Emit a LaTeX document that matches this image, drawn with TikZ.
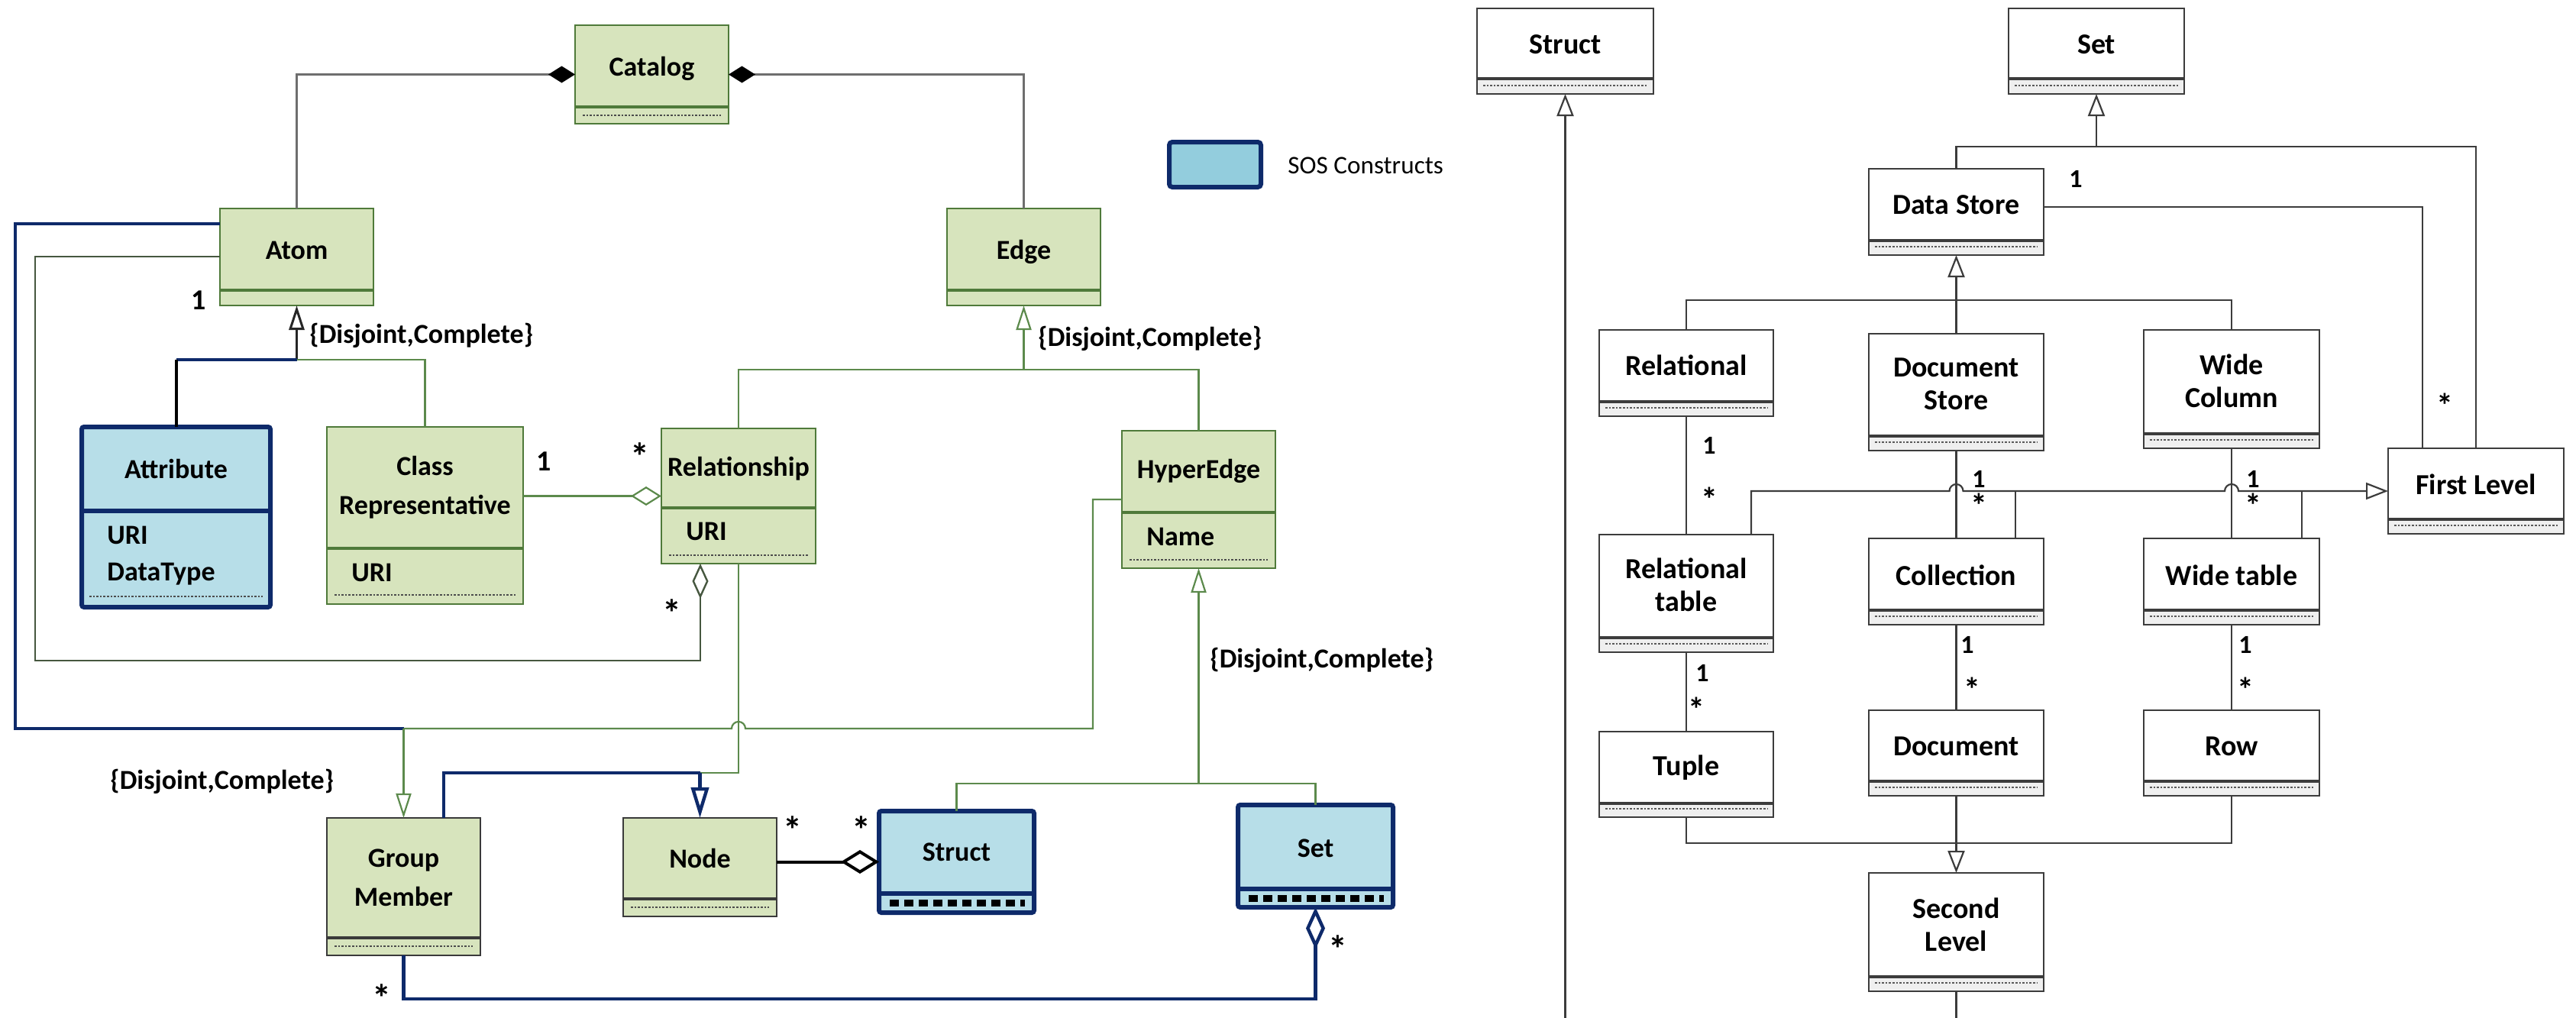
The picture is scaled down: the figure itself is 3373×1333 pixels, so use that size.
\documentclass[tikz,border=0pt]{standalone}
\usepackage{fontspec}
\setmainfont{Carlito}
\usetikzlibrary{arrows.meta}

\definecolor{gfill}{HTML}{D7E4BD}
\definecolor{gline}{HTML}{4F7A3A}
\definecolor{gconncol}{HTML}{5C8A4C}
\definecolor{gmline}{HTML}{3A3A3A}
\definecolor{bfill}{HTML}{B7DEE8}
\definecolor{lfill}{HTML}{93CDDD}
\definecolor{navy}{HTML}{0E2A6A}
\definecolor{cgray}{HTML}{6E6E6E}
\definecolor{rline}{HTML}{3C3C3C}
\definecolor{cfill}{HTML}{EFEFEF}
\definecolor{loopcol}{HTML}{46573F}

% green UML class: [border colour]{name}{x1}{y1}{x2}{y2}{divider y}
\newcommand{\gclass}[7][gline]{%
  \pgfmathsetmacro{\clsw}{(#5-#3)/2}%
  \pgfmathsetmacro{\clsh}{(#6-#4)/2}%
  \fill[gfill] (#3,#4) rectangle (#5,#6);
  \node[draw=#1, line width=1.3pt, rectangle, inner sep=0pt, outer sep=0pt,
        minimum width=\clsw pt, minimum height=\clsh pt] (#2) at ({(#3+#5)/2},{(#4+#6)/2}) {};
  \draw[#1, line width=1.6pt] (#3,#7) -- (#5,#7);
}
% blue (SOS construct) class
\newcommand{\bclass}[6]{%
  \pgfmathsetmacro{\clsw}{(#4-#2)/2}%
  \pgfmathsetmacro{\clsh}{(#5-#3)/2}%
  \node[draw=navy, fill=bfill, line width=3pt, rounded corners=1.5pt, rectangle, inner sep=0pt, outer sep=0pt,
        minimum width=\clsw pt, minimum height=\clsh pt] (#1) at ({(#2+#4)/2},{(#3+#5)/2}) {};
  \draw[navy, line width=3pt] (#2,#6) -- (#4,#6);
}
% white class with grey lower compartment
\newcommand{\wclass}[6]{%
  \pgfmathsetmacro{\clsw}{(#4-#2)/2}%
  \pgfmathsetmacro{\clsh}{(#5-#3)/2}%
  \fill[white] (#2,#3) rectangle (#4,#5);
  \fill[cfill] (#2,#6) rectangle (#4,#5);
  \node[draw=rline, line width=1.1pt, rectangle, inner sep=0pt, outer sep=0pt,
        minimum width=\clsw pt, minimum height=\clsh pt] (#1) at ({(#2+#4)/2},{(#3+#5)/2}) {};
  \draw[rline, line width=1.8pt] (#2,#6) -- (#4,#6);
  \draw[rdots] ({#2+8},{#5-11}) -- ({#4-8},{#5-11});
}

\begin{document}
\begin{tikzpicture}[x=0.5pt, y=-0.5pt,
  lname/.style={font=\bfseries\fontsize{18}{25.5}\selectfont, align=center, inner sep=0pt},
  rname/.style={font=\bfseries\fontsize{19}{21.5}\selectfont, align=center, inner sep=0pt},
  attr/.style={font=\bfseries\fontsize{18}{22}\selectfont, anchor=west, inner sep=0pt},
  mult/.style={font=\bfseries\fontsize{19}{20}\selectfont, inner sep=0pt},
  rmult/.style={font=\bfseries\fontsize{17}{18}\selectfont, inner sep=0pt},
  star/.style={font=\bfseries\fontsize{25}{26}\selectfont, inner sep=0pt},
  rstar/.style={font=\bfseries\fontsize{22}{23}\selectfont, inner sep=0pt},
  constraint/.style={font=\bfseries\fontsize{18}{20}\selectfont, anchor=west, inner sep=0pt},
  gdots/.style={draw=black!70, line width=1.1pt, dash pattern=on 1.3pt off 1pt},
  rdots/.style={draw=black!65, line width=1.1pt, dash pattern=on 1.3pt off 1pt},
  bdash/.style={draw=black, line width=4.5pt, dash pattern=on 6pt off 3.5pt},
  gconn/.style={draw=gconncol, line width=1.1pt},
  bconn/.style={draw=navy, line width=2.2pt},
  kconn/.style={draw=black, line width=2pt},
  cconn/.style={draw=cgray, line width=1.4pt},
  rconn/.style={draw=rline, line width=1.1pt},
  gen/.style={-{Triangle[open, length=16pt, width=10pt]}},
  rgen/.style={-{Triangle[open, length=14.5pt, width=11pt]}},
  compose/.style={{Diamond[length=17.5pt, width=11pt, color=black, fill=black]}-},
]
\useasboundingbox (0,0) rectangle (3373,1333);
\fill[white] (0,0) rectangle (3373,1333);

% ---------------- left model ----------------
\gclass{catalog}{753}{33}{954}{162}{140}
\draw[gdots] (763,151) -- (944,151);
\gclass{atom}{288}{273}{489}{400}{380}
\gclass{edge}{1240}{273}{1441}{400}{380}
\bclass{attribute}{107}{559}{354}{795}{669}
\draw[gdots] (117,781) -- (344,781);
\gclass{classrep}{428}{559}{685}{791}{718}
\draw[gdots] (438,779) -- (675,779);
\gclass{relationship}{866}{561}{1068}{738}{665}
\draw[gdots] (876,727) -- (1058,727);
\gclass{hyperedge}{1469}{564}{1670}{744}{671}
\draw[gdots] (1479,733) -- (1660,733);
\gclass[gmline]{groupmember}{428}{1071}{629}{1251}{1228}
\draw[gdots] (438,1239) -- (619,1239);
\gclass[gmline]{nodecls}{816}{1071}{1017}{1200}{1177}
\draw[gdots] (826,1188) -- (1007,1188);
\bclass{struct}{1151}{1062}{1354}{1195}{1170}
\draw[bdash] (1165,1182) -- (1342,1182);
\bclass{set}{1621}{1054}{1824}{1188}{1164}
\draw[bdash] (1635,1176) -- (1812,1176);

\node[lname] (catalog-t) at (853.5,90) {Catalog};
\node[lname] (atom-t) at (388.5,328) {Atom};
\node[lname] (edge-t) at (1340.5,330) {Edge};
\node[lname] (attribute-t) at (230.5,614) {Attribute};
\node[attr] (attribute-a1) at (140,701) {URI};
\node[attr] (attribute-a2) at (140,752) {DataType};
\node[lname] (classrep-t) at (556.5,638) {Class\\Representative};
\node[attr] (classrep-a) at (460,750) {URI};
\node[lname] (relationship-t) at (967,614) {Relationship};
\node[attr] (relationship-a) at (898,696) {URI};
\node[lname] (hyperedge-t) at (1569.5,617) {HyperEdge};
\node[attr] (hyperedge-a) at (1501,703) {Name};
\node[lname] (groupmember-t) at (528.5,1149) {Group\\Member};
\node[lname] (nodecls-t) at (916.5,1124) {Node};
\node[lname] (struct-t) at (1252.5,1116) {Struct};
\node[lname] (set-t) at (1722.5,1111) {Set};

% legend
\node[draw=navy, fill=lfill, line width=3pt, rounded corners=2pt, inner sep=0pt,
      minimum width=60pt, minimum height=29.5pt] (legend) at (1591,215.5) {};
\node[font=\fontsize{16.6}{18}\selectfont, anchor=west, inner sep=0pt] (legend-t) at (1686,217) {SOS Constructs};

% compositions of Catalog
\draw[cconn, compose] (catalog.west) -| (atom.north);
\draw[cconn, compose] (catalog.east) -| (edge.north);

% Atom specialisation
\coordinate (atomj) at (388.5,471);
\draw[draw=black!85, line width=1.5pt, gen] (atomj) -- (atom.south);
\draw[bconn] (atomj) -- (atomj -| attribute.north);
\draw[kconn] (atomj -| attribute.north) -- (attribute.north);
\draw[gconn] (atomj) -| (classrep.north);
\node[constraint] (atom-c) at (405,439) {\{Disjoint,Complete\}};
\node[mult] (atom-m) at (260,393) {1};

% Edge specialisation
\coordinate (edgej) at (1340.5,484);
\draw[gconn, gen] (edgej) -- (edge.south);
\draw[gconn] (relationship.north) |- (edgej) -| (hyperedge.north);
\node[constraint] (edge-c) at (1359,443) {\{Disjoint,Complete\}};

% Class Representative -- Relationship
\draw[gconn, -{Diamond[open, length=20pt, width=12.5pt]}] (classrep.east |- relationship.west) -- (relationship.west);
\node[mult] (cr-m1) at (712,604) {1};
\node[star] (cr-m2) at (838,598) {*};

% Atom -- Relationship aggregation
\draw[draw=loopcol, line width=1.2pt, -{Diamond[open, length=23pt, width=10.5pt]}]
  (atom.west |- 0,336) -| (46,865) -| (relationship.south -| 917,0);
\node[star] (rel-m) at (880,803) {*};

% Group Member specialisations
\coordinate (gmj) at (528.5,954);
\draw[bconn] (atom.west |- 0,293) -| (20,954) -- (gmj);
\draw[gconn] (hyperedge.west) -| (1431,954) -- (976,954)
  arc[start angle=0, end angle=180, radius=4.5pt] -- (gmj);
\draw[gconn, gen] (gmj) -- (groupmember.north);
\node[constraint] (gm-c) at (144,1023) {\{Disjoint,Complete\}};

% Node specialisations
\coordinate (nodej) at (916.5,1012);
\draw[gconn] (relationship.south) |- (nodej);
\draw[bconn] (groupmember.north -| 581,0) |- (nodej);
\draw[bconn, -{Triangle[open, length=20pt, width=11.5pt]}] (nodej) -- (nodecls.north);

% Node -- Struct aggregation
\draw[kconn, -{Diamond[open, length=25pt, width=15.5pt]}] (nodecls.east |- struct.west) -- (struct.west);
\node[star] (ns-m1) at (1038,1087) {*};
\node[star] (ns-m2) at (1128,1087) {*};

% HyperEdge specialisation
\coordinate (hej) at (1569.5,1026);
\draw[gconn, gen] (hej) -- (hyperedge.south);
\draw[gconn] (struct.north) |- (hej) -| (set.north);
\node[constraint] (he-c) at (1584,864) {\{Disjoint,Complete\}};

% Set -- Group Member aggregation
\draw[bconn, {Diamond[open, length=27.5pt, width=12.5pt]}-] (set.south) |- (528.5,1308) -- (groupmember.south);
\node[star] (sg-m1) at (1752,1243) {*};
\node[star] (sg-m2) at (500,1307) {*};

% ---------------- right model ----------------
\wclass{structR}{1934}{11}{2165}{123}{103}
\wclass{setR}{2630}{11}{2860}{123}{103}
\wclass{datastore}{2447}{221}{2676}{334}{315}
\wclass{relational}{2094}{432}{2322}{545}{526}
\wclass{docstore}{2447}{437}{2676}{590}{571}
\wclass{widecol}{2807}{432}{3037}{587}{568}
\wclass{firstlevel}{3127}{587}{3357}{699}{680}
\wclass{reltable}{2094}{700}{2322}{854}{835}
\wclass{collection}{2447}{705}{2676}{818}{799}
\wclass{widetable}{2807}{705}{3037}{818}{799}
\wclass{tuple}{2094}{958}{2322}{1070}{1052}
\wclass{document}{2447}{930}{2676}{1042}{1023}
\wclass{row}{2807}{930}{3037}{1042}{1023}
\wclass{secondlevel}{2447}{1143}{2676}{1298}{1279}

\node[rname] (structR-t) at (2049.5,58) {Struct};
\node[rname] (setR-t) at (2745,58) {Set};
\node[rname] (datastore-t) at (2561.5,268) {Data Store};
\node[rname] (relational-t) at (2208,478) {Relational};
\node[rname] (docstore-t) at (2561.5,503) {Document\\Store};
\node[rname] (widecol-t) at (2922,499) {Wide\\Column};
\node[rname] (firstlevel-t) at (3242,634) {First Level};
\node[rname] (reltable-t) at (2208,766) {Relational\\table};
\node[rname] (collection-t) at (2561.5,753) {Collection};
\node[rname] (widetable-t) at (2922,753) {Wide table};
\node[rname] (tuple-t) at (2208,1005) {Tuple};
\node[rname] (document-t) at (2561.5,977) {Document};
\node[rname] (row-t) at (2922,977) {Row};
\node[rname] (secondlevel-t) at (2561.5,1211) {Second\\Level};

% Struct specialisation (continues below)
\coordinate (structEnd) at (2049.5,1333);
\draw[rconn, rgen] (structEnd) -- (structR.south);

% Set specialisation
\coordinate (setj) at (2745,192);
\draw[rconn, rgen] (setj) -- (setR.south);
\draw[rconn] (datastore.north) |- (setj) -| (firstlevel.north);

% Data Store -- First Level
\draw[rconn] (datastore.east |- 0,271) -| (firstlevel.north -| 3172,0);
\node[rmult] (df-m1) at (2718,234) {1};
\node[rstar] (df-m2) at (3201,531) {*};

% Data Store specialisation
\coordinate (dsj) at (2561.5,393);
\draw[rconn, rgen] (dsj) -- (datastore.south);
\draw[rconn] (relational.north) |- (dsj) -| (widecol.north);
\draw[rconn] (docstore.north) -- (dsj);

% store -- container associations
\draw[rconn] (relational.south) -- (reltable.north);
\draw[rconn] (docstore.south) -- (collection.north);
\draw[rconn] (widecol.south) -- (widetable.north);
\node[rmult] (rr-m1) at (2238,583) {1};
\node[rstar] (rr-m2) at (2238,654) {*};
\node[rmult] (dc-m1) at (2591,627) {1};
\node[rstar] (dc-m2) at (2591,662) {*};
\node[rmult] (ww-m1) at (2950,627) {1};
\node[rstar] (ww-m2) at (2950,662) {*};

% First Level specialisation
\draw[rconn, rgen] (reltable.north -| 2293,0) |- (2552.5,643)
  arc[start angle=180, end angle=0, radius=4.5pt] -- (2913,643)
  arc[start angle=180, end angle=0, radius=4.5pt] -- (firstlevel.west);
\draw[rconn] (collection.north -| 2639,0) -- (2639,643);
\draw[rconn] (widetable.north -| 3014,0) -- (3014,643);

% container -- item associations
\draw[rconn] (reltable.south) -- (tuple.north);
\draw[rconn] (collection.south) -- (document.north);
\draw[rconn] (widetable.south) -- (row.north);
\node[rmult] (rt-m1) at (2229,881) {1};
\node[rstar] (rt-m2) at (2221,929) {*};
\node[rmult] (cd-m1) at (2576,844) {1};
\node[rstar] (cd-m2) at (2582,903) {*};
\node[rmult] (wr-m1) at (2940,844) {1};
\node[rstar] (wr-m2) at (2940,903) {*};

% Second Level specialisation
\coordinate (slj) at (2561.5,1104);
\draw[rconn] (tuple.south) |- (slj) -| (row.south);
\draw[rconn, rgen] (document.south) -- (secondlevel.north);
\coordinate (slEnd) at (2561.5,1333);
\draw[rconn] (secondlevel.south) -- (slEnd);
\end{tikzpicture}
\end{document}
